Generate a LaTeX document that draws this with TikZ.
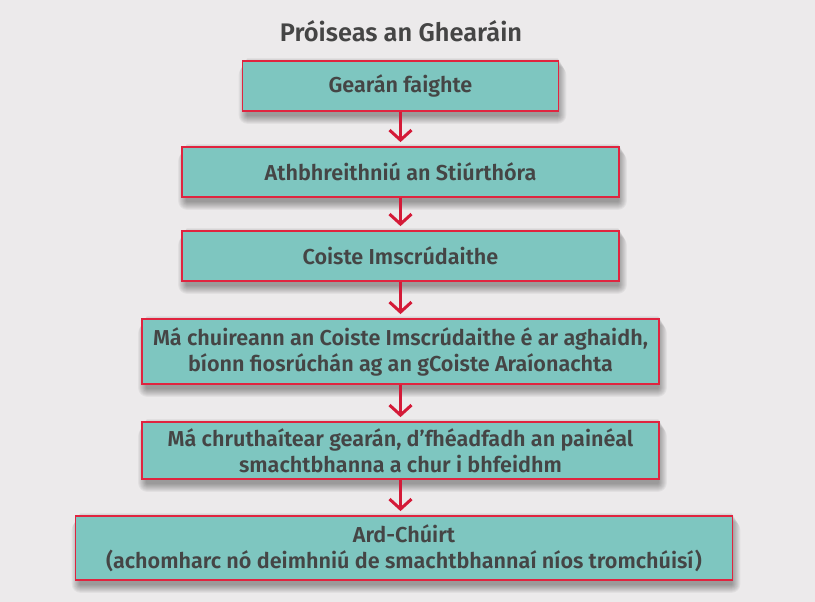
\documentclass[tikz,border=0pt]{standalone}
\usepackage{fontspec}
\setmainfont{Fira Sans SemiBold}
\usetikzlibrary{arrows.meta,backgrounds}
\definecolor{bgc}{HTML}{ECEAEB}
\definecolor{tealc}{HTML}{7EC6C0}
\definecolor{redb}{HTML}{E0243F}
\definecolor{redarr}{HTML}{D41A38}
\definecolor{txt}{HTML}{454545}
\begin{document}
\begin{tikzpicture}[x=1pt,y=-1pt,
  box/.style={draw=redb, line width=1.8pt, fill=tealc, text=txt, align=center,
    inner sep=0pt, font=\fontsize{21.6}{26}\selectfont},
  flow/.style={draw=redarr, line width=3pt, shorten >=4pt,
    -{Straight Barb[length=10pt,width=22pt]}}]
\node[text=txt, font=\fontsize{25.4}{28}\selectfont, anchor=base] (title) at (401,41.5) {Próiseas an Ghearáin};
\node[box, minimum width=316pt, minimum height=50pt] (b1) at (400.5,86) {Gearán faighte};
\node[box, minimum width=437pt, minimum height=50pt] (b2) at (400.5,172) {Athbhreithniú an Stiúrthóra};
\node[box, minimum width=437pt, minimum height=50pt] (b3) at (400.5,256) {Coiste Imscrúdaithe};
\node[box, minimum width=517pt, minimum height=65pt] (b4) at (400.5,351.5) {Má chuireann an Coiste Imscrúdaithe é ar aghaidh,\\bíonn fiosrúchán ag an gCoiste Araíonachta};
\node[box, minimum width=517pt, minimum height=57pt] (b5) at (400.5,450.5) {Má chruthaítear gearán, d’fhéadfadh an painéal\\smachtbhanna a chur i bhfeidhm};
\node[box, minimum width=657pt, minimum height=64pt] (b6) at (404,548) {Ard-Chúirt\\(achomharc nó deimhniú de smachtbhannaí níos tromchúisí)};
\foreach \a/\b in {b1/b2,b2/b3,b3/b4,b4/b5,b5/b6}
  \draw[flow] (\a.south) -- (\a.south |- \b.north);
\begin{scope}[on background layer]
\fill[bgc] (0,0) rectangle (815,602);
\foreach \n in {b1,b2,b3,b4,b5,b6}
  \foreach \k in {1,...,9}
    \fill[black, opacity=0.045, rounded corners=\k pt]
      ([shift={(6-\k,\k-3)}]\n.north west) rectangle ([shift={(\k-2,\k+3)}]\n.south east);
\end{scope}
\useasboundingbox (0,0) rectangle (815,602);
\end{tikzpicture}
\end{document}
